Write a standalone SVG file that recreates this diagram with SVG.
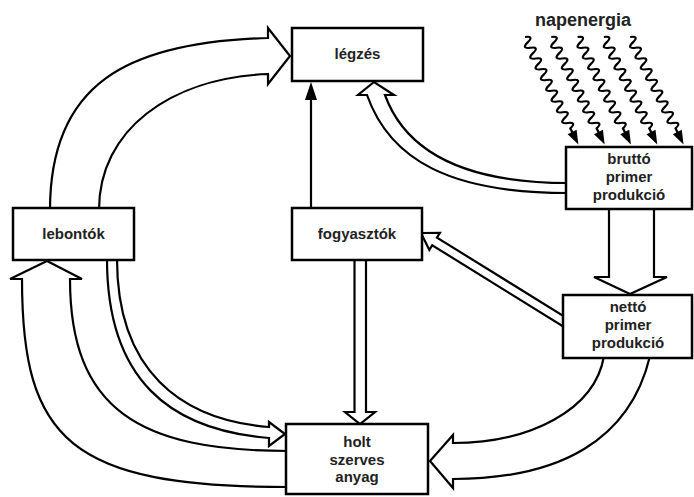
<svg xmlns="http://www.w3.org/2000/svg" xmlns:xlink="http://www.w3.org/1999/xlink" width="694" height="497" viewBox="0 0 694 497">
<style>
.box{fill:#fff;stroke:#000;stroke-width:2.5}
.fat{fill:#fff;stroke:#000;stroke-width:2.2;stroke-linejoin:miter}
.wave{fill:none;stroke:#000;stroke-width:2.2}
.lbl{font-family:"Liberation Sans",Arial,sans-serif;font-weight:bold;font-size:15px;fill:#222;text-anchor:middle}
.sun{font-size:18px}
</style>
<defs>
<g id="ray">
<path class="wave" d="M0,0 q3,-9 6,0 t6,0 t6,0 t6,0 t6,0 t6,0 t6,0 t6,0 t6,0 t6,0 t6,0 t6,0 t6,0 t6,0 t6,0 t6,0 t6,0 L108,0"/>
<polygon points="106,-5 120,0 106,5" fill="#000"/>
</g>
</defs>
<rect width="694" height="497" fill="#fff"/>
<g id="connectors">
<path class="fat" d="M50,210 C50,85 125,42 268,38 L268,28 L290,56 L268,84 L268,74 C170,78 99,130 99,210 Z"/>
<path class="fat" d="M568,193 C450,193 390,160 367,95 L358,95 L374,82 L394,95 L385,95 C405,150 460,183 568,183 Z"/>
<line x1="311" y1="210" x2="311" y2="98" stroke="#000" stroke-width="2.2"/>
<polygon points="305,100 317,100 311,82" fill="#000"/>
<polygon class="fat" points="609,207 654,207 654,277 667,277 630,294 594,277 609,277"/>
<polygon class="fat" points="0,0 16,-10 16,-4.5 172,-4.5 172,4.5 16,4.5 16,10" transform="translate(421,233) rotate(31.8)"/>
<polygon class="fat" points="354.5,259 366,259 366,412 375,412 360,424 345,412 354.5,412"/>
<path class="fat" d="M604,356 C595,410 530,443 453,443 L453,435 L430,461 L453,488 L453,479 C560,479 630,440 650,356 Z"/>
<path class="fat" d="M107,259 C107,380 170,430 269,438 L269,446 L285,434 L269,422 L269,427 C180,420 117,370 117,259 Z"/>
<path class="fat" d="M288,487 C70,487 22,440 22,279 L10,279 L47,261 L82,279 L70,279 C70,410 140,451 288,451 Z"/>
<use href="#ray" xlink:href="#ray" transform="translate(525,37) rotate(63.6)"/>
<use href="#ray" xlink:href="#ray" transform="translate(551.3,37) rotate(63.6)"/>
<use href="#ray" xlink:href="#ray" transform="translate(577.6,37) rotate(63.6)"/>
<use href="#ray" xlink:href="#ray" transform="translate(603.9,37) rotate(63.6)"/>
<use href="#ray" xlink:href="#ray" transform="translate(630.2,37) rotate(63.6)"/>
</g>
<g id="napenergia"><text class="lbl sun" x="583" y="26">napenergia</text></g>
<g id="legzes"><rect class="box" x="292" y="28" width="131" height="53"/><text class="lbl" x="357.5" y="59">légzés</text></g>
<g id="lebontok"><rect class="box" x="13" y="208" width="121" height="52"/><text class="lbl" x="73.5" y="239">lebontók</text></g>
<g id="fogyasztok"><rect class="box" x="292" y="208" width="130" height="52"/><text class="lbl" x="357" y="239">fogyasztók</text></g>
<g id="brutto"><rect class="box" x="566" y="147" width="126" height="62"/><text class="lbl" x="629" y="164">bruttó</text><text class="lbl" x="629" y="182">primer</text><text class="lbl" x="629" y="200">produkció</text></g>
<g id="netto"><rect class="box" x="563" y="295" width="129" height="63"/><text class="lbl" x="628" y="312">nettó</text><text class="lbl" x="628" y="330">primer</text><text class="lbl" x="628" y="348">produkció</text></g>
<g id="holt"><rect class="box" x="286" y="424" width="142" height="70"/><text class="lbl" x="357" y="447">holt</text><text class="lbl" x="357" y="465">szerves</text><text class="lbl" x="357" y="482">anyag</text></g>
</svg>
